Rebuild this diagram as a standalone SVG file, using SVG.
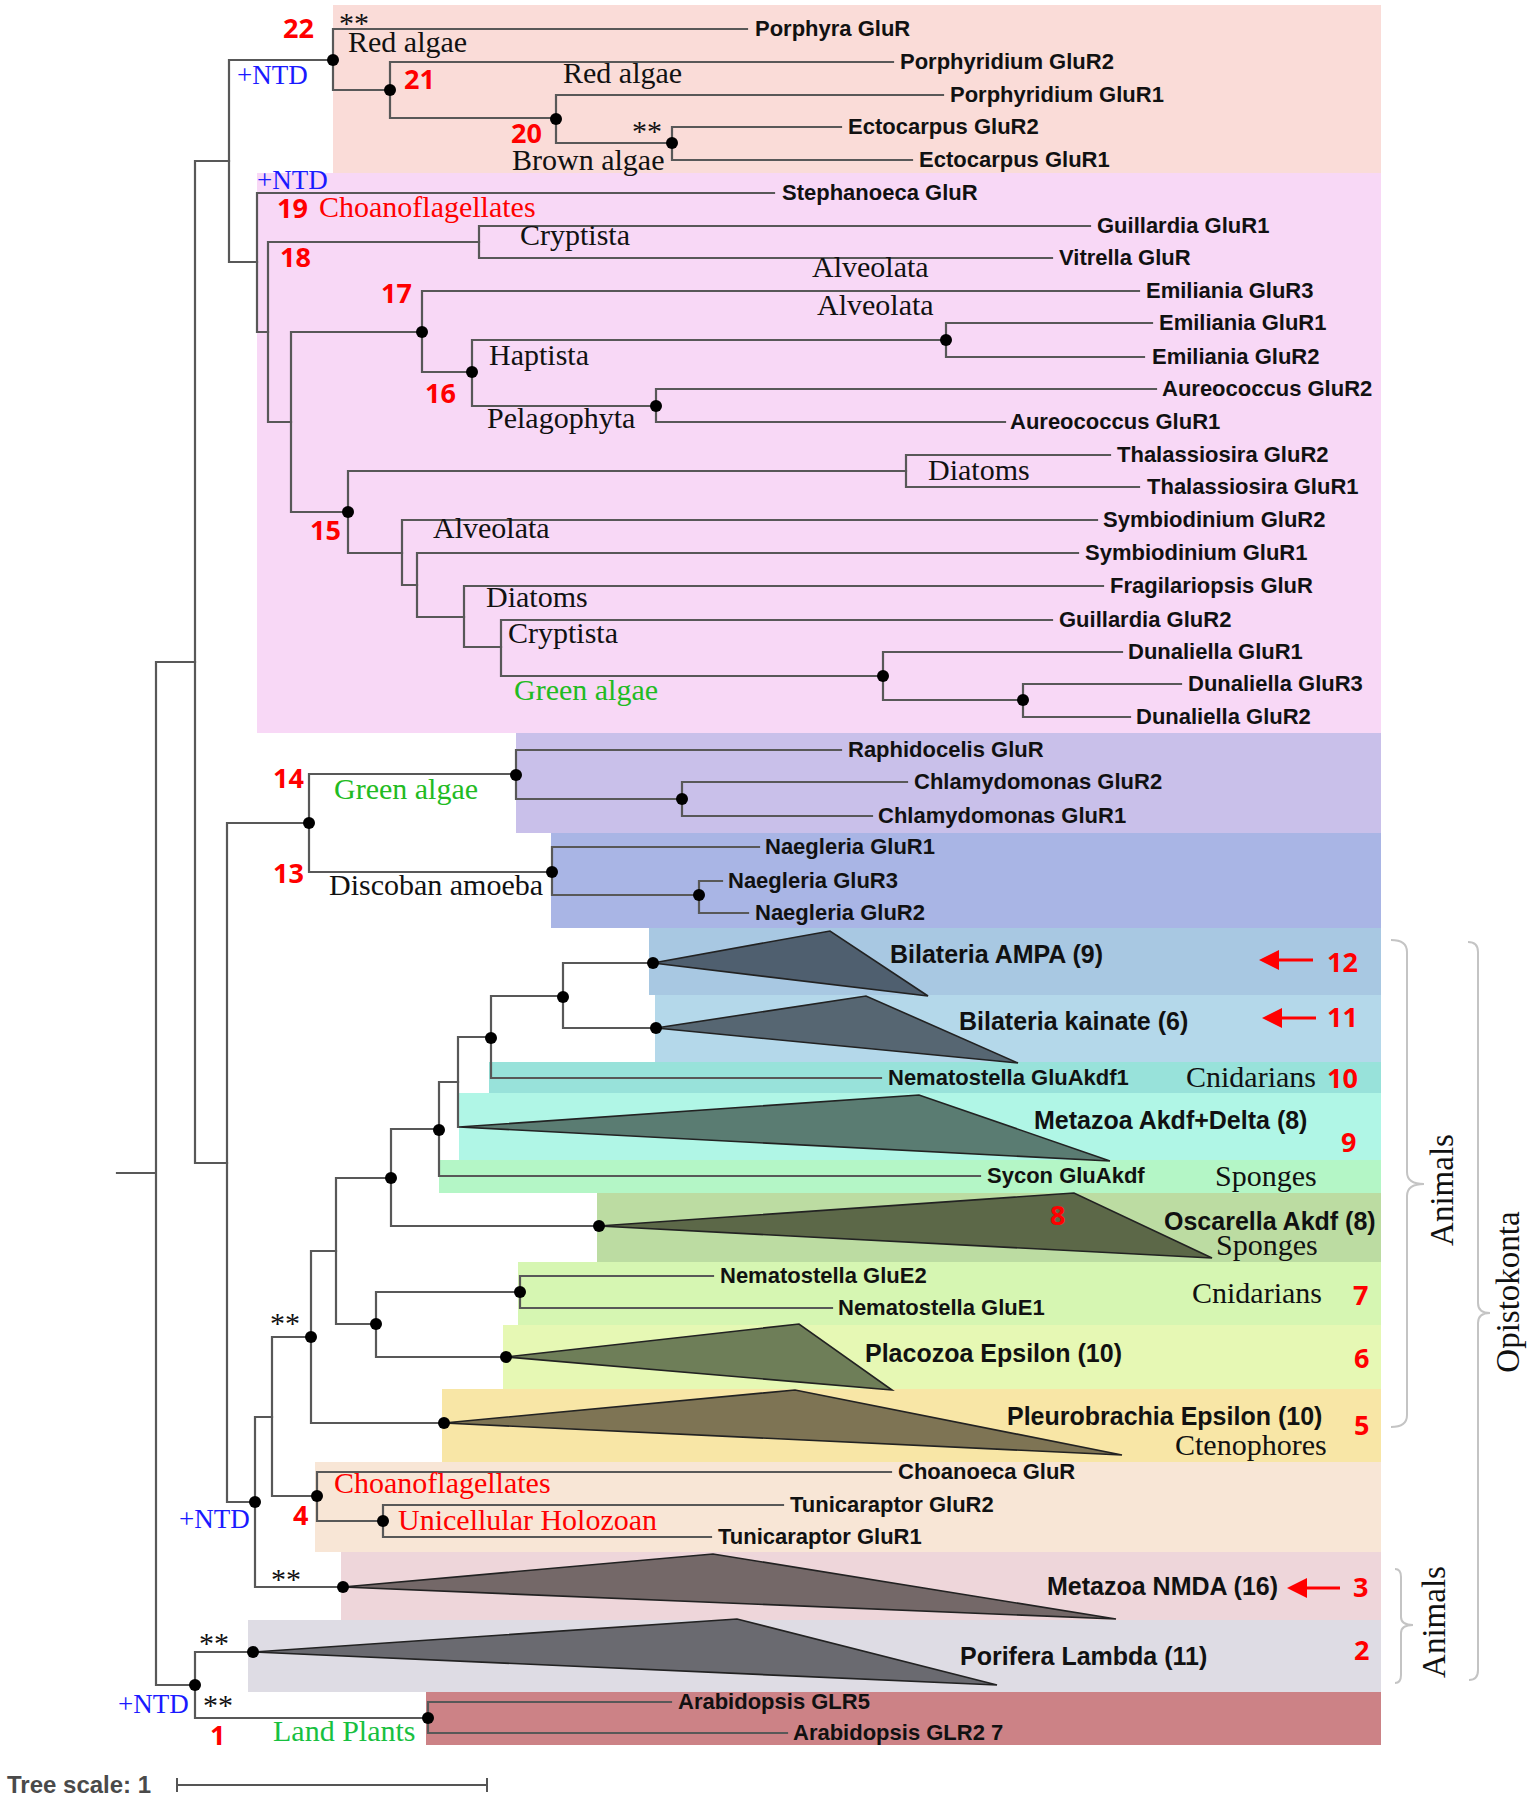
<svg xmlns="http://www.w3.org/2000/svg" width="1534" height="1800" viewBox="0 0 1534 1800">
<defs>
<style>
.br{stroke:#585858;stroke-width:2.2;fill:none;stroke-linecap:square}
.dot{fill:#000}
.leaf{font-family:"Liberation Sans",Arial,sans-serif;font-weight:bold;font-size:22px;fill:#111}
.clade{font-family:"Liberation Sans",Arial,sans-serif;font-weight:bold;font-size:25px;fill:#111}
.num{font-family:"Open Sans","Liberation Sans",sans-serif;font-weight:bold;font-size:27px;fill:#ff0000}
.ser{font-family:"Liberation Serif","Times New Roman",serif;font-size:30px;fill:#111}
.ntd{fill:#1a1aff;font-size:27px}
.red{fill:#ff0000}
.grn{fill:#22bb22}
.tri{stroke:#222;stroke-width:1.6}
.brace{stroke:#c4c4c4;stroke-width:2;fill:none}
.arr{stroke:#ff0000;stroke-width:3}
.arrh{fill:#ff0000}
.scale{font-family:"Liberation Sans",Arial,sans-serif;font-weight:bold;font-size:24px;fill:#4a4a4a}
</style>
</defs>
<rect width="1534" height="1800" fill="#fff"/>

<g id="backgrounds">
<rect x="333" y="5" width="1048" height="168" fill="#fadcd8"/>
<rect x="257" y="173" width="1124" height="560" fill="#f8d8f6"/>
<rect x="516" y="733" width="865" height="100" fill="#c9c0ea"/>
<rect x="551" y="833" width="830" height="95" fill="#a9b5e5"/>
<rect x="649" y="928" width="732" height="67" fill="#a8c8e2"/>
<rect x="655" y="995" width="726" height="67" fill="#b4d8ea"/>
<rect x="489" y="1062" width="892" height="31" fill="#98e2da"/>
<rect x="459" y="1093" width="922" height="67" fill="#b0f6e6"/>
<rect x="439" y="1160" width="942" height="33" fill="#b4f6c6"/>
<rect x="597" y="1193" width="784" height="69" fill="#bcdca2"/>
<rect x="518" y="1262" width="863" height="63" fill="#d6f6b2"/>
<rect x="503" y="1325" width="878" height="64" fill="#e6f8b4"/>
<rect x="442" y="1389" width="939" height="73" fill="#f8e6a6"/>
<rect x="315" y="1462" width="1066" height="90" fill="#f8e6d6"/>
<rect x="341" y="1552" width="1040" height="68" fill="#eed6da"/>
<rect x="248" y="1620" width="1133" height="72" fill="#dedce4"/>
<rect x="426" y="1692" width="955" height="53" fill="#cc8286"/>
</g>

<g id="connectors" class="br">
<path d="M117 1173H156 M156 662V1685 M156 662H195 M156 1685H195"/>
<path d="M195 161V1163 M195 161H229 M195 1163H227"/>
<path d="M229 60V262 M229 60H333 M229 262H257"/>
<path d="M333 29V90 M333 29H747 M333 90H390"/>
<path d="M390 62V118 M390 62H893 M390 118H556"/>
<path d="M556 95V143 M556 95H943 M556 143H672"/>
<path d="M672 127V160 M672 127H841 M672 160H912"/>
<path d="M257 193V332 M257 193H774 M257 332H268"/>
<path d="M268 242V422 M268 242H479 M268 422H291"/>
<path d="M479 226V258 M479 226H1090 M479 258H1052"/>
<path d="M291 332V512 M291 332H422 M291 512H348"/>
<path d="M422 291V372 M422 291H1139 M422 372H472"/>
<path d="M472 340V406 M472 340H946 M472 406H656"/>
<path d="M946 323V357 M946 323H1152 M946 357H1144"/>
<path d="M656 389V422 M656 389H1156 M656 422H1005"/>
<path d="M348 471V553 M348 471H906 M348 553H402"/>
<path d="M906 455V487 M906 455H1110 M906 487H1139"/>
<path d="M402 520V585 M402 520H1097 M402 585H417"/>
<path d="M417 553V617 M417 553H1078 M417 617H464"/>
<path d="M464 586V647 M464 586H1103 M464 647H501"/>
<path d="M501 620V676 M501 620H1052 M501 676H883"/>
<path d="M883 652V700 M883 652H1122 M883 700H1023"/>
<path d="M1023 684V717 M1023 684H1181 M1023 717H1130"/>
<path d="M227 823V1502 M227 823H309 M227 1502H255"/>
<path d="M309 774V872 M309 774H516 M309 872H552"/>
<path d="M516 750V799 M516 750H841 M516 799H682"/>
<path d="M682 782V816 M682 782H907 M682 816H872"/>
<path d="M552 847V895 M552 847H759 M552 895H699"/>
<path d="M699 881V913 M699 881H722 M699 913H748"/>
<path d="M255 1417V1587 M255 1417H272 M255 1587H343"/>
<path d="M272 1337V1496 M272 1337H311 M272 1496H317"/>
<path d="M311 1251V1423 M311 1251H336 M311 1423H444"/>
<path d="M336 1178V1324 M336 1178H391 M336 1324H376"/>
<path d="M391 1129V1226 M391 1129H439 M391 1226H599"/>
<path d="M439 1082V1176 M439 1082H458 M439 1176H980"/>
<path d="M458 1037V1127 M458 1037H491"/>
<path d="M491 996V1078 M491 996H563 M491 1078H881"/>
<path d="M563 963V1028 M563 963H653 M563 1028H656"/>
<path d="M376 1292V1357 M376 1292H520 M376 1357H506"/>
<path d="M520 1276V1308 M520 1276H713 M520 1308H832"/>
<path d="M317 1472V1521 M317 1472H891 M317 1521H383"/>
<path d="M383 1505V1537 M383 1505H783 M383 1537H711"/>
<path d="M195 1652V1718 M195 1652H253 M195 1718H428"/>
<path d="M428 1702V1733 M428 1702H671 M428 1733H787"/>
</g>

<g id="collapsed-clades">
<g id="clade-bilateria-ampa"><polygon class="tri" points="653,963 830,931 928,996" fill="#4f5f6f"/><text class="clade" x="890" y="963">Bilateria AMPA (9)</text></g>
<g id="clade-bilateria-kainate"><polygon class="tri" points="656,1028 866,996 1018,1063" fill="#566672"/><text class="clade" x="959" y="1030">Bilateria kainate (6)</text></g>
<g id="clade-metazoa-akdf-delta"><polygon class="tri" points="459,1127 919,1095 1110,1161" fill="#5a7c72"/><text class="clade" x="1034" y="1129">Metazoa Akdf+Delta (8)</text></g>
<g id="clade-oscarella"><polygon class="tri" points="599,1226 1074,1193 1212,1258" fill="#5c6848"/><text class="clade" x="1164" y="1230">Oscarella Akdf (8)</text></g>
<g id="clade-placozoa"><polygon class="tri" points="506,1357 799,1324 892,1390" fill="#6e7e58"/><text class="clade" x="865" y="1362">Placozoa Epsilon (10)</text></g>
<g id="clade-pleurobrachia"><polygon class="tri" points="444,1423 795,1390 1122,1455" fill="#7e7454"/><text class="clade" x="1007" y="1425">Pleurobrachia Epsilon (10)</text></g>
<g id="clade-metazoa-nmda"><polygon class="tri" points="343,1587 713,1554 1116,1619" fill="#746868"/><text class="clade" x="1047" y="1595">Metazoa NMDA (16)</text></g>
<g id="clade-porifera-lambda"><polygon class="tri" points="253,1652 737,1619 997,1685" fill="#6a6a70"/><text class="clade" x="960" y="1665">Porifera Lambda (11)</text></g>
</g>

<g id="nodes" class="dot">
<circle cx="333" cy="60" r="6"/><circle cx="390" cy="90" r="6"/><circle cx="556" cy="119" r="6"/><circle cx="672" cy="143" r="6"/>
<circle cx="422" cy="332" r="6"/><circle cx="472" cy="372" r="6"/><circle cx="946" cy="340" r="6"/><circle cx="656" cy="406" r="6"/>
<circle cx="348" cy="512" r="6"/><circle cx="883" cy="676" r="6"/><circle cx="1023" cy="700" r="6"/>
<circle cx="309" cy="823" r="6"/><circle cx="516" cy="775" r="6"/><circle cx="682" cy="799" r="6"/><circle cx="552" cy="872" r="6"/><circle cx="699" cy="895" r="6"/>
<circle cx="255" cy="1502" r="6"/><circle cx="311" cy="1337" r="6"/><circle cx="391" cy="1178" r="6"/><circle cx="439" cy="1130" r="6"/>
<circle cx="491" cy="1038" r="6"/><circle cx="563" cy="997" r="6"/><circle cx="653" cy="963" r="6"/><circle cx="656" cy="1028" r="6"/>
<circle cx="599" cy="1226" r="6"/><circle cx="376" cy="1324" r="6"/><circle cx="520" cy="1292" r="6"/><circle cx="506" cy="1357" r="6"/>
<circle cx="444" cy="1423" r="6"/><circle cx="317" cy="1496" r="6"/><circle cx="383" cy="1521" r="6"/><circle cx="343" cy="1587" r="6"/>
<circle cx="253" cy="1652" r="6"/><circle cx="195" cy="1685" r="6"/><circle cx="428" cy="1718" r="6"/>
</g>

<g id="leaves" class="leaf">
<g id="leaf-porphyra"><text x="755" y="36">Porphyra GluR</text></g>
<g id="leaf-porphyridium2"><text x="900" y="69">Porphyridium GluR2</text></g>
<g id="leaf-porphyridium1"><text x="950" y="102">Porphyridium GluR1</text></g>
<g id="leaf-ectocarpus2"><text x="848" y="134">Ectocarpus GluR2</text></g>
<g id="leaf-ectocarpus1"><text x="919" y="167">Ectocarpus GluR1</text></g>
<g id="leaf-stephanoeca"><text x="782" y="200">Stephanoeca GluR</text></g>
<g id="leaf-guillardia1"><text x="1097" y="233">Guillardia GluR1</text></g>
<g id="leaf-vitrella"><text x="1059" y="265">Vitrella GluR</text></g>
<g id="leaf-emiliania3"><text x="1146" y="298">Emiliania GluR3</text></g>
<g id="leaf-emiliania1"><text x="1159" y="330">Emiliania GluR1</text></g>
<g id="leaf-emiliania2"><text x="1152" y="364">Emiliania GluR2</text></g>
<g id="leaf-aureococcus2"><text x="1162" y="396">Aureococcus GluR2</text></g>
<g id="leaf-aureococcus1"><text x="1010" y="429">Aureococcus GluR1</text></g>
<g id="leaf-thalassiosira2"><text x="1117" y="462">Thalassiosira GluR2</text></g>
<g id="leaf-thalassiosira1"><text x="1147" y="494">Thalassiosira GluR1</text></g>
<g id="leaf-symbiodinium2"><text x="1103" y="527">Symbiodinium GluR2</text></g>
<g id="leaf-symbiodinium1"><text x="1085" y="560">Symbiodinium GluR1</text></g>
<g id="leaf-fragilariopsis"><text x="1110" y="593">Fragilariopsis GluR</text></g>
<g id="leaf-guillardia2"><text x="1059" y="627">Guillardia GluR2</text></g>
<g id="leaf-dunaliella1"><text x="1128" y="659">Dunaliella GluR1</text></g>
<g id="leaf-dunaliella3"><text x="1188" y="691">Dunaliella GluR3</text></g>
<g id="leaf-dunaliella2"><text x="1136" y="724">Dunaliella GluR2</text></g>
<g id="leaf-raphidocelis"><text x="848" y="757">Raphidocelis GluR</text></g>
<g id="leaf-chlamydomonas2"><text x="914" y="789">Chlamydomonas GluR2</text></g>
<g id="leaf-chlamydomonas1"><text x="878" y="823">Chlamydomonas GluR1</text></g>
<g id="leaf-naegleria1"><text x="765" y="854">Naegleria GluR1</text></g>
<g id="leaf-naegleria3"><text x="728" y="888">Naegleria GluR3</text></g>
<g id="leaf-naegleria2"><text x="755" y="920">Naegleria GluR2</text></g>
<g id="leaf-nematostella-akdf1"><text x="888" y="1085">Nematostella GluAkdf1</text></g>
<g id="leaf-sycon"><text x="987" y="1183">Sycon GluAkdf</text></g>
<g id="leaf-nematostella-e2"><text x="720" y="1283">Nematostella GluE2</text></g>
<g id="leaf-nematostella-e1"><text x="838" y="1315">Nematostella GluE1</text></g>
<g id="leaf-choanoeca"><text x="898" y="1479">Choanoeca GluR</text></g>
<g id="leaf-tunicaraptor2"><text x="790" y="1512">Tunicaraptor GluR2</text></g>
<g id="leaf-tunicaraptor1"><text x="718" y="1544">Tunicaraptor GluR1</text></g>
<g id="leaf-arabidopsis5"><text x="678" y="1709">Arabidopsis GLR5</text></g>
<g id="leaf-arabidopsis27"><text x="793" y="1740">Arabidopsis GLR2 7</text></g>
</g>

<g id="group-labels" class="ser">
<text x="348" y="52">Red algae</text>
<text x="563" y="83">Red algae</text>
<text x="512" y="170">Brown algae</text>
<text x="520" y="245">Cryptista</text>
<text x="812" y="277">Alveolata</text>
<text x="817" y="315">Alveolata</text>
<text x="489" y="365">Haptista</text>
<text x="487" y="428">Pelagophyta</text>
<text x="928" y="480">Diatoms</text>
<text x="433" y="538">Alveolata</text>
<text x="486" y="607">Diatoms</text>
<text x="508" y="643">Cryptista</text>
<text class="grn" x="514" y="700">Green algae</text>
<text class="grn" x="334" y="799">Green algae</text>
<text x="329" y="895">Discoban amoeba</text>
<text x="1186" y="1087">Cnidarians</text>
<text x="1215" y="1186">Sponges</text>
<text x="1216" y="1255">Sponges</text>
<text x="1192" y="1303">Cnidarians</text>
<text x="1175" y="1455">Ctenophores</text>
<text class="red" x="319" y="217">Choanoflagellates</text>
<text class="red" x="334" y="1493">Choanoflagellates</text>
<text class="red" x="398" y="1530">Unicellular Holozoan</text>
<text x="273" y="1741" style="fill:#17c040">Land Plants</text>
<text class="ntd" x="237" y="84">+NTD</text>
<text class="ntd" x="257" y="189">+NTD</text>
<text class="ntd" x="179" y="1528">+NTD</text>
<text class="ntd" x="118" y="1713">+NTD</text>
<text x="339" y="33">**</text>
<text x="632" y="141">**</text>
<text x="270" y="1333">**</text>
<text x="271" y="1589">**</text>
<text x="199" y="1653">**</text>
<text x="203" y="1715">**</text>
</g>

<g id="numbers" class="num">
<text x="283" y="38">22</text>
<text x="404" y="89">21</text>
<text x="511" y="143">20</text>
<text x="277" y="218">19</text>
<text x="280" y="267">18</text>
<text x="381" y="303">17</text>
<text x="425" y="403">16</text>
<text x="310" y="540">15</text>
<text x="273" y="788">14</text>
<text x="273" y="883">13</text>
<text x="1327" y="972">12</text>
<text x="1327" y="1027">11</text>
<text x="1327" y="1088">10</text>
<text x="1341" y="1152">9</text>
<text x="1050" y="1225">8</text>
<text x="1353" y="1305">7</text>
<text x="1354" y="1368">6</text>
<text x="1354" y="1435">5</text>
<text x="293" y="1525">4</text>
<text x="1353" y="1597">3</text>
<text x="1354" y="1660">2</text>
<text x="210" y="1745">1</text>
</g>

<g id="arrows">
<line class="arr" x1="1313" y1="960" x2="1277" y2="960"/><polygon class="arrh" points="1259,960 1279,950 1279,970"/>
<line class="arr" x1="1316" y1="1018" x2="1280" y2="1018"/><polygon class="arrh" points="1262,1018 1282,1008 1282,1028"/>
<line class="arr" x1="1340" y1="1588" x2="1305" y2="1588"/><polygon class="arrh" points="1287,1588 1307,1578 1307,1598"/>
</g>

<g id="brackets">
<path class="brace" d="M1391 940Q1407 940 1407 952V1172Q1407 1184 1424 1184Q1407 1184 1407 1196V1415Q1407 1427 1391 1427"/>
<path class="brace" d="M1468 942Q1478 942 1478 952V1303Q1478 1313 1490 1313Q1478 1313 1478 1323V1670Q1478 1680 1469 1680"/>
<path class="brace" d="M1395 1569Q1401 1569 1401 1577V1617Q1401 1625 1413 1625Q1401 1625 1401 1633V1675Q1401 1683 1395 1683"/>
<text class="ser" style="font-size:33px" text-anchor="middle" transform="translate(1453 1190) rotate(-90)">Animals</text>
<text class="ser" style="font-size:33px" text-anchor="middle" transform="translate(1519 1292) rotate(-90)">Opistokonta</text>
<text class="ser" style="font-size:33px" text-anchor="middle" transform="translate(1445 1622) rotate(-90)">Animals</text>
</g>

<g id="tree-scale">
<text class="scale" x="7" y="1793">Tree scale: 1</text>
<path class="br" style="stroke:#555;stroke-width:2" d="M177 1785H487 M177 1779V1791 M487 1779V1791"/>
</g>
</svg>
